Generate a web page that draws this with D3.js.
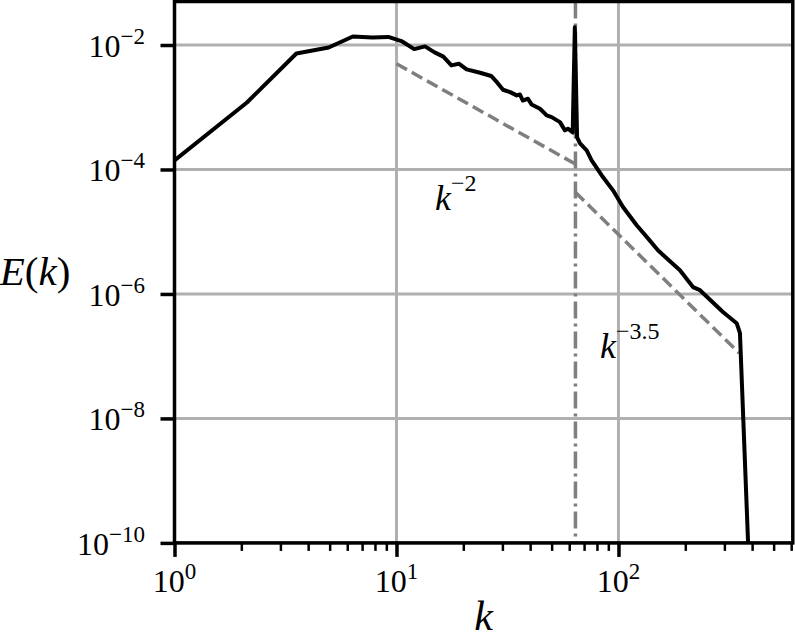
<!DOCTYPE html>
<html lang="en">
<head>
<meta charset="UTF-8">
<title>E(k)</title>
<script src="https://cdn.jsdelivr.net/npm/d3@7"></script>
<style>
body { margin: 0; background: #fff; }
svg text { font-family: "Liberation Serif", "Times New Roman", serif; fill: #000; }
</style>
</head>
<body>
<div id="output"></div>
<script>

// energy spectrum
var kVals = [1, 2.12, 3.54, 4.95, 6.36, 7.78, 9.19, 10.61, 12.02, 13.44, 14.85, 16.26, 17.68, 19.09,
    20.7, 23.8, 26.7, 28.4, 30.2, 32.5, 34.8, 36.0, 37.1, 39.1, 40.6, 44.3, 47.5, 50.0, 54.5, 57.4,
    59.2, 62.2, 63.6, 65.1, 67.1, 71.9, 75.7, 85.1, 94.5, 104.8, 120.8, 135.8, 150.6, 189.2, 216.6,
    232.9, 295.6, 340.8, 352.6, 383.2, 389.2];
var eVals = [1.40e-4, 1.19e-3, 7.3e-3, 9.1e-3, 1.37e-2, 1.32e-2, 1.35e-2, 1.14e-2, 8.6e-3, 9.5e-3, 7.6e-3, 6.5e-3, 4.7e-3, 5.0e-3,
    4.05e-3, 3.58e-3, 3.18e-3, 2.50e-3, 1.91e-3, 1.75e-3, 1.55e-3, 1.60e-3, 1.28e-3, 1.37e-3, 1.11e-3, 9.46e-4, 7.38e-4, 6.93e-4, 5.77e-4, 4.25e-4,
    4.52e-4, 3.94e-4, 1.93e-2, 3.27e-4, 2.62e-4, 2.03e-4, 1.40e-4, 7.55e-5, 4.62e-5, 2.49e-5, 1.27e-5, 7.83e-6, 5.02e-6, 2.40e-6, 1.29e-6,
    1.15e-6, 5.14e-7, 3.39e-7, 2.34e-7, 1.11e-10, 5.3e-11];

// reference slopes (end points)
var slope2K = [10, 64];
var slope2E = [5.0e-3, 1.22e-4];
var slope35K = [64, 350];
var slope35E = [4.3e-5, 1.12e-7];
var forcingK = 64;

var xTicks = [1, 10, 100];
var xTickExp = ["0", "1", "2"];
var xMinorTicks = [2, 3, 4, 5, 6, 7, 8, 9, 20, 30, 40, 50, 60, 70, 80, 90, 200, 300, 400, 500, 600];
var yTicks = [1e-10, 1e-8, 1e-6, 1e-4, 1e-2];
var yTickExp = ["\u221210", "\u22128", "\u22126", "\u22124", "\u22122"];

var annotations = [
    { k: 14.9, e: 2.2e-5, exp: "\u22122" },
    { k: 82.5, e: 9.3e-8, exp: "\u22123.5" }
];

var w = 795, h = 640;
var pLeft = 174.5, pRight = 792.8, pTop = 1.5, pBottom = 542.9;
var serif = "'Liberation Serif', 'Times New Roman', Times, serif";

var svg = d3.select("#output")
        .append("svg")
        .attr("width", w)
        .attr("height", h)
        .attr("font-family", serif);

var xScale = d3.scaleLog().domain([1, 610]).range([pLeft, pRight]);
var yScale = d3.scaleLog().domain([1e-10, 0.05]).range([pBottom, pTop]);

svg.append("clipPath").attr("id", "plot-clip")
    .append("rect")
    .attr("x", pLeft).attr("y", pTop)
    .attr("width", pRight - pLeft).attr("height", pBottom - pTop);

// grid
var grid = svg.append("g");
grid.selectAll("line.gx").data(xTicks).enter().append("line")
    .attr("x1", function(d){ return xScale(d); })
    .attr("x2", function(d){ return xScale(d); })
    .attr("y1", pTop).attr("y2", pBottom)
    .attr("stroke", "#b0b0b0").attr("stroke-width", 3);
grid.selectAll("line.gy").data(yTicks).enter().append("line")
    .attr("y1", function(d){ return yScale(d); })
    .attr("y2", function(d){ return yScale(d); })
    .attr("x1", pLeft).attr("x2", pRight)
    .attr("stroke", "#b0b0b0").attr("stroke-width", 3);

var plot = svg.append("g").attr("clip-path", "url(#plot-clip)");

// forcing wavenumber
plot.append("line")
    .attr("x1", xScale(forcingK)).attr("x2", xScale(forcingK))
    .attr("y1", pTop).attr("y2", pBottom)
    .attr("stroke", "#7f7f7f").attr("stroke-width", 3.5)
    .attr("stroke-dasharray", "17,5,3,5");

var line = d3.line()
    .x(function(d){ return xScale(d[0]); })
    .y(function(d){ return yScale(d[1]); });

plot.append("path")
    .datum(d3.zip(slope2K, slope2E))
    .attr("d", line)
    .attr("fill", "none").attr("stroke", "#7f7f7f").attr("stroke-width", 3.5)
    .attr("stroke-dasharray", "12,5.5");

plot.append("path")
    .datum(d3.zip(slope35K, slope35E))
    .attr("d", line)
    .attr("fill", "none").attr("stroke", "#7f7f7f").attr("stroke-width", 3.5)
    .attr("stroke-dasharray", "12,5.5");

plot.append("path")
    .datum(d3.zip(kVals, eVals))
    .attr("d", line)
    .attr("fill", "none").attr("stroke", "#000").attr("stroke-width", 4)
    .attr("stroke-linejoin", "round");

// axes
var xAxis = svg.append("g")
    .attr("transform", "translate(0," + pBottom + ")")
    .call(d3.axisBottom(xScale).tickValues(xTicks).tickSize(14).tickFormat(""));
var xMinor = svg.append("g")
    .attr("transform", "translate(0," + pBottom + ")")
    .call(d3.axisBottom(xScale).tickValues(xMinorTicks).tickSize(8).tickFormat(""));
var yAxis = svg.append("g")
    .attr("transform", "translate(" + pLeft + ",0)")
    .call(d3.axisLeft(yScale).tickValues(yTicks).tickSize(14).tickFormat(""));

[xAxis, xMinor, yAxis].forEach(function(g){ g.select(".domain").remove(); });
xAxis.selectAll(".tick line").attr("stroke", "#000").attr("stroke-width", 3.5);
yAxis.selectAll(".tick line").attr("stroke", "#000").attr("stroke-width", 3.5);
xMinor.selectAll(".tick line").attr("stroke", "#000").attr("stroke-width", 2.5);

// tick labels
xTicks.forEach(function(v, i){
    var t = svg.append("text")
        .attr("x", xScale(v)).attr("y", 592)
        .attr("text-anchor", "middle");
    t.append("tspan").attr("font-size", 32).text("10");
    t.append("tspan").attr("font-size", 23).attr("dy", -13).text(xTickExp[i]);
});
yTicks.forEach(function(v, i){
    var t = svg.append("text")
        .attr("x", 145).attr("y", yScale(v) + 12)
        .attr("text-anchor", "end");
    t.append("tspan").attr("font-size", 32).text("10");
    t.append("tspan").attr("font-size", 23).attr("dy", -13).text(yTickExp[i]);
});

// annotations
annotations.forEach(function(a){
    var t = svg.append("text")
        .attr("x", xScale(a.k)).attr("y", yScale(a.e));
    t.append("tspan").attr("font-size", 36).attr("font-style", "italic").text("k");
    t.append("tspan").attr("font-size", 24).attr("dy", -19).text(a.exp);
});

// axis labels
svg.append("text")
    .attr("x", (pLeft + pRight) / 2).attr("y", 630)
    .attr("text-anchor", "middle")
    .attr("font-size", 42).attr("font-style", "italic")
    .text("k");

var ylab = svg.append("text")
    .attr("x", 35).attr("y", 285)
    .attr("text-anchor", "middle")
    .attr("font-size", 41);
ylab.append("tspan").attr("font-style", "italic").text("E");
ylab.append("tspan").text("(");
ylab.append("tspan").attr("font-style", "italic").text("k");
ylab.append("tspan").text(")");

// frame
svg.append("rect")
    .attr("x", pLeft).attr("y", pTop)
    .attr("width", pRight - pLeft).attr("height", pBottom - pTop)
    .attr("fill", "none").attr("stroke", "#000").attr("stroke-width", 3.5);

</script>
</body>
</html>
